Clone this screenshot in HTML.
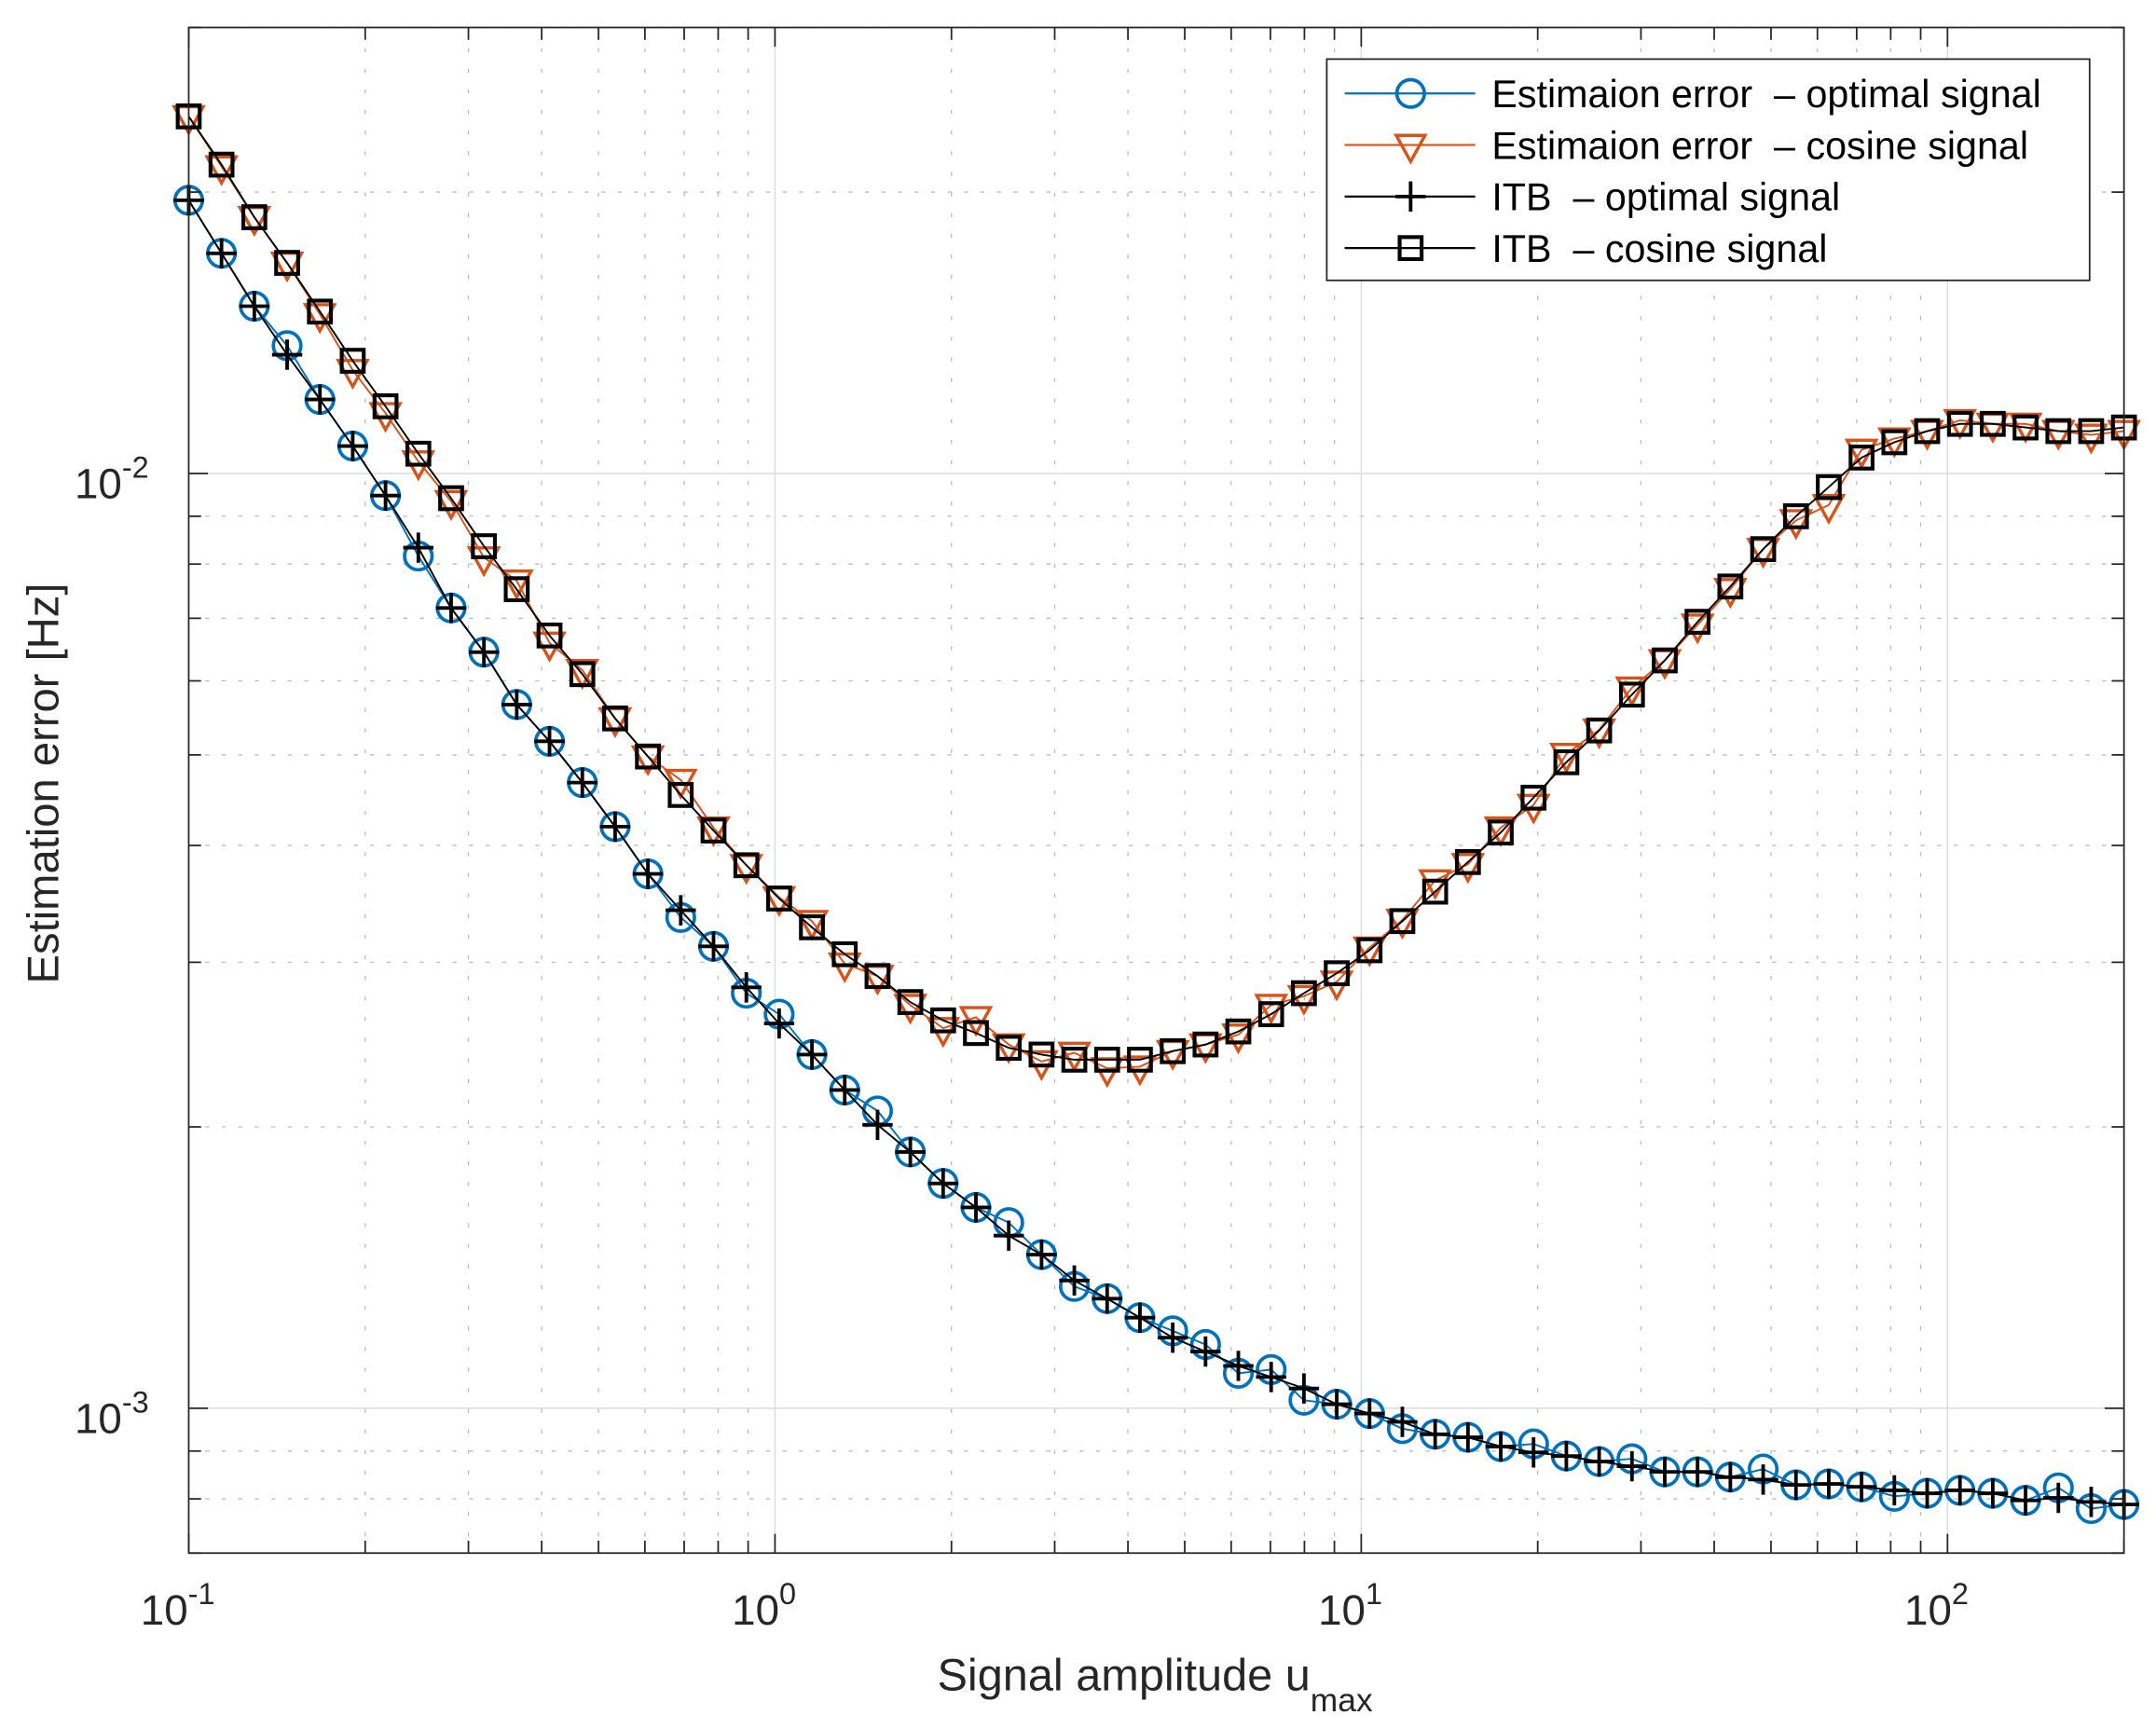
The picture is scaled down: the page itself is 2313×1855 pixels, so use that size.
<!DOCTYPE html>
<html><head><meta charset="utf-8"><style>
html,body{margin:0;padding:0;background:#fff;}
svg{display:block;font-family:"Liberation Sans",sans-serif;}
text{white-space:pre;}
</style></head><body>
<svg id="chart" width="2313" height="1855" viewBox="0 0 1568 1258" xmlns="http://www.w3.org/2000/svg">
<rect x="0" y="0" width="1568" height="1258" fill="#fff"/>
<g id="grid"></g>
<g id="series"></g>
<rect x="137" y="20" width="1408" height="1110" fill="none" stroke="#262626" stroke-width="1.2"/>
<g id="ticks"></g>
<text x="840" y="1230" font-size="33" text-anchor="middle" fill="#262626">Signal amplitude u<tspan font-size="24" dy="15">max</tspan></text>
<text transform="translate(42,570) rotate(-90)" font-size="32" text-anchor="middle" fill="#262626">Estimation error [Hz]</text>
<g id="legend">
<rect x="965" y="43" width="555" height="161" fill="#fff" stroke="#262626" stroke-width="1.2"/>
</g>
</svg>
<script>
const xMin = 0.1, xMax = 200, yMin = 7e-4, yMax = 0.03;
const xTickValues = [0.1, 1, 10, 100];
const xTickExps = ["-1", "0", "1", "2"];
const yTickValues = [0.001, 0.01];
const yTickExps = ["-3", "-2"];
const estOptimal = [0.0196,0.0172,0.0151,0.0137,0.0120,0.0107,0.00947,0.00816,0.00718,0.00644,0.00566,0.00517,0.00467,0.00419,0.00373,0.00335,0.00312,0.00278,0.00264,0.00239,0.00219,0.00208,0.00188,0.00174,0.00164,0.00158,0.00146,0.00135,0.00131,0.00125,0.00121,0.00117,0.00109,0.00110,0.00102,0.00101,0.000987,0.000951,0.000938,0.000931,0.000910,0.000916,0.000889,0.000877,0.000883,0.000855,0.000855,0.000844,0.000861,0.000828,0.000830,0.000824,0.000805,0.000811,0.000817,0.000811,0.000797,0.000822,0.000781,0.000789];
const itbOptimal = [0.0196,0.0172,0.0151,0.0134,0.0120,0.0107,0.00947,0.00833,0.00718,0.00644,0.00566,0.00517,0.00467,0.00419,0.00373,0.00341,0.00312,0.00282,0.00258,0.00239,0.00219,0.00201,0.00188,0.00174,0.00164,0.00153,0.00146,0.00137,0.00131,0.00125,0.00119,0.00115,0.00111,0.00108,0.00105,0.00101,0.000987,0.000967,0.000938,0.000931,0.000910,0.000897,0.000889,0.000877,0.000867,0.000855,0.000855,0.000844,0.000839,0.000828,0.000830,0.000824,0.000817,0.000811,0.000817,0.000811,0.000797,0.000802,0.000794,0.000789];
const estCosine = [0.0241,0.0213,0.0188,0.0168,0.0148,0.0129,0.0116,0.0103,0.00934,0.00813,0.00768,0.00659,0.00616,0.00547,0.00498,0.00470,0.00418,0.00381,0.00352,0.00332,0.00299,0.00290,0.00270,0.00255,0.00262,0.00245,0.00235,0.00240,0.00231,0.00232,0.00241,0.00245,0.00251,0.00270,0.00276,0.00286,0.00311,0.00333,0.00367,0.00382,0.00418,0.00442,0.00501,0.00532,0.00590,0.00631,0.00689,0.00752,0.00830,0.00891,0.00925,0.0106,0.0109,0.0111,0.0114,0.0113,0.0113,0.0111,0.0110,0.0111];
const itbCosine = [0.0241,0.0214,0.0188,0.0168,0.0149,0.0132,0.0118,0.0105,0.00941,0.00836,0.00752,0.00671,0.00610,0.00547,0.00498,0.00453,0.00415,0.00381,0.00351,0.00327,0.00306,0.00290,0.00272,0.00260,0.00252,0.00243,0.00239,0.00236,0.00236,0.00236,0.00241,0.00245,0.00253,0.00264,0.00278,0.00292,0.00309,0.00332,0.00357,0.00384,0.00413,0.00450,0.00491,0.00531,0.00580,0.00631,0.00694,0.00757,0.00830,0.00900,0.00967,0.0104,0.0108,0.0111,0.0113,0.0113,0.0112,0.0111,0.0111,0.0112];
const nPoints = 60;
const xValues = [];
for (let i = 0; i < nPoints; i++) xValues.push(Math.pow(10, -1 + i * (Math.log10(200) + 1) / (nPoints - 1)));

const L = 137, R = 1545, T = 20, B = 1130;
const NS = "http://www.w3.org/2000/svg";
function xs(v){return L + (Math.log10(v) - Math.log10(xMin)) / (Math.log10(xMax) - Math.log10(xMin)) * (R - L);}
function ys(v){return B - (Math.log10(v) - Math.log10(yMin)) / (Math.log10(yMax) - Math.log10(yMin)) * (B - T);}
function mk(tag, attrs, parent){const e=document.createElementNS(NS,tag);for(const k in attrs)e.setAttribute(k,attrs[k]);parent.appendChild(e);return e;}
const grid=document.getElementById('grid'), ticks=document.getElementById('ticks'), series=document.getElementById('series'), legend=document.getElementById('legend');

for (let d = -1; d <= 2; d++) {
  for (let m = 1; m <= 9; m++) {
    const v = m * Math.pow(10, d);
    if (v < xMin || v > xMax) continue;
    const x = xs(v);
    const major = m === 1;
    if (x > L + 1) {
      const g = mk('line',{x1:x,y1:T,x2:x,y2:B,stroke:major?'#dcdcdc':'#bdbdbd','stroke-width':major?1:0.9,'stroke-dasharray':major?'none':'3,12'},grid);
      
      
    }
    const len = major ? 14 : 9;
    const t1 = mk('line',{x1:x,y1:B,x2:x,y2:B-len,stroke:'#262626','stroke-width':1.2},ticks);
    
    
    const t2 = mk('line',{x1:x,y1:T,x2:x,y2:T+len,stroke:'#262626','stroke-width':1.2},ticks);
    
    
  }
}
for (let d = -4; d <= -2; d++) {
  for (let m = 1; m <= 9; m++) {
    const v = m * Math.pow(10, d);
    if (v < yMin || v > yMax) continue;
    const y = ys(v);
    const major = m === 1;
    const g = mk('line',{x1:L,y1:y,x2:R,y2:y,stroke:major?'#dcdcdc':'#bdbdbd','stroke-width':major?1:0.9,'stroke-dasharray':major?'none':'3,9'},grid);
    
    
    const len = major ? 14 : 9;
    const t1 = mk('line',{x1:L,y1:y,x2:L+len,y2:y,stroke:'#262626','stroke-width':1.2},ticks);
    
    
    const t2 = mk('line',{x1:R,y1:y,x2:R-len,y2:y,stroke:'#262626','stroke-width':1.2},ticks);
    
    
  }
}
xTickValues.forEach((v,i)=>{
  const t = mk('text',{x:xs(v)-8,y:1182,'font-size':31,'text-anchor':'middle',fill:'#262626'},ticks);
  
  
  t.innerHTML = '10<tspan font-size="22" dy="-15">'+xTickExps[i]+'</tspan>';
});
yTickValues.forEach((v,i)=>{
  const t = mk('text',{x:108,y:ys(v)+18,'font-size':31,'text-anchor':'end',fill:'#262626'},ticks);
  
  
  t.innerHTML = '10<tspan font-size="22" dy="-15">'+yTickExps[i]+'</tspan>';
});

function marker(type, x, y, color, parent){
  let e;
  if (type==='circle') e = mk('circle',{cx:x,cy:y,r:10,fill:'none',stroke:color,'stroke-width':2.5},parent);
  else if (type==='tri') e = mk('path',{d:`M${x-10.5},${y-7} L${x+10.5},${y-7} L${x},${y+12} Z`,fill:'none',stroke:color,'stroke-width':2.3},parent);
  else if (type==='plus') e = mk('path',{d:`M${x-11},${y} H${x+11} M${x},${y-11} V${y+11}`,fill:'none',stroke:color,'stroke-width':2.6},parent);
  else e = mk('rect',{x:x-8,y:y-8,width:16,height:16,fill:'none',stroke:color,'stroke-width':2.8},parent);
  return e;
}
const seriesDefs = [
  {data:estOptimal,color:'#0072BD',m:'circle',name:'estimation-error-optimal',label:'Estimaion error  \u2013 optimal signal'},
  {data:estCosine,color:'#D95319',m:'tri',name:'estimation-error-cosine',label:'Estimaion error  \u2013 cosine signal'},
  {data:itbOptimal,color:'#000000',m:'plus',name:'itb-optimal',label:'ITB  \u2013 optimal signal'},
  {data:itbCosine,color:'#000000',m:'square',name:'itb-cosine',label:'ITB  \u2013 cosine signal'}
];
seriesDefs.forEach((s,si)=>{
  const g = mk('g',{},series);
  
  
  const pts = s.data.map((v,i)=>xs(xValues[i]).toFixed(1)+','+ys(v).toFixed(1)).join(' ');
  const pl = mk('polyline',{points:pts,fill:'none',stroke:s.color,'stroke-width':1.3},g);
  
  
  s.data.forEach((v,i)=>{
    const m = marker(s.m, xs(xValues[i]), ys(v), s.color, g);
    
    
  });
  const ly = 68 + si*37.5;
  const le = mk('g',{},legend);
  
  
  mk('line',{x1:978,y1:ly,x2:1073,y2:ly,stroke:s.color,'stroke-width':1.5},le);
  marker(s.m, 1026, ly, s.color, le);
  const t = mk('text',{x:1085,y:ly+10,'font-size':28,fill:'#000'},le);
  t.textContent = s.label;
});
</script>
</body></html>
